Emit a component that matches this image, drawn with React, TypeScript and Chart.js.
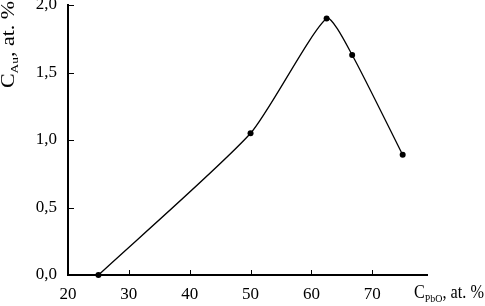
import React, { useEffect, useRef } from "react";
import { Chart, registerables } from "chart.js";

Chart.register(...registerables);

const xValues = [25, 50, 62.5, 66.7, 75];
const yValues = [0, 1.05, 1.9, 1.63, 0.89];
const xTicks = [20, 30, 40, 50, 60, 70];
const yTicks = [0, 0.5, 1.0, 1.5, 2.0];

const FONT = "'Liberation Serif', 'Times New Roman', serif";

type Part = { text: string; size: number; dy: number };

function drawRich(ctx: any, parts: Part[], target: number) {
  let total = 0;
  parts.forEach((p) => {
    ctx.font = `${p.size}px ${FONT}`;
    total += ctx.measureText(p.text).width;
  });
  const k = target / total;
  ctx.save();
  ctx.scale(k, 1);
  let x = 0;
  parts.forEach((p) => {
    ctx.font = `${p.size}px ${FONT}`;
    ctx.fillText(p.text, x, p.dy);
    x += ctx.measureText(p.text).width;
  });
  ctx.restore();
}

const decorPlugin = {
  id: "decor",
  afterDraw(chart: any) {
    const ctx = chart.ctx;
    const xs = chart.scales.x;
    const ys = chart.scales.y;
    const area = chart.chartArea;
    ctx.save();
    ctx.strokeStyle = "#000";
    ctx.lineWidth = 1;
    xTicks.forEach((v) => {
      const px = Math.round(xs.getPixelForValue(v)) + 0.5;
      ctx.beginPath();
      ctx.moveTo(px, area.bottom);
      ctx.lineTo(px, area.bottom - 5);
      ctx.stroke();
    });
    yTicks.forEach((v) => {
      const py = Math.round(ys.getPixelForValue(v)) + 0.5;
      ctx.beginPath();
      ctx.moveTo(area.left, py);
      ctx.lineTo(area.left + 6, py);
      ctx.stroke();
    });
    ctx.fillStyle = "#000";
    ctx.textBaseline = "alphabetic";
    ctx.textAlign = "left";
    // x title
    ctx.save();
    ctx.translate(414, 298);
    drawRich(
      ctx,
      [
        { text: "C", size: 18, dy: 0 },
        { text: "PbO", size: 11, dy: 4 },
        { text: ", at. %", size: 18, dy: 0 },
      ],
      70
    );
    ctx.restore();
    // y title
    ctx.save();
    ctx.translate(14, 88);
    ctx.rotate(-Math.PI / 2);
    drawRich(
      ctx,
      [
        { text: "C", size: 18, dy: 0 },
        { text: "Au", size: 11, dy: 4 },
        { text: ", at. %", size: 18, dy: 0 },
      ],
      87
    );
    ctx.restore();
    ctx.restore();
  },
};

export default function App() {
  const ref = useRef<HTMLCanvasElement | null>(null);
  useEffect(() => {
    if (!ref.current) return;
    const chart = new Chart(ref.current, {
      type: "line",
      data: {
        datasets: [
          {
            data: xValues.map((v, i) => ({ x: v, y: yValues[i] })),
            borderColor: "#000",
            backgroundColor: "#000",
            borderWidth: 1.3,
            pointRadius: 3,
            pointBackgroundColor: "#000",
            pointBorderWidth: 0,
            tension: 0.2,
            fill: false,
            clip: false as any,
          },
        ],
      },
      options: {
        animation: false,
        responsive: false,
        devicePixelRatio: 1,
        layout: { padding: { top: 5, right: 58, left: 0, bottom: 0 } },
        plugins: { legend: { display: false }, tooltip: { enabled: false } },
        scales: {
          x: {
            type: "linear",
            min: 20,
            max: 79,
            afterBuildTicks: (s: any) => {
              s.ticks = xTicks.map((v) => ({ value: v }));
            },
            afterFit: (s: any) => {
              s.height = 31;
              s.paddingLeft = 0;
              s.paddingRight = 0;
            },
            grid: { display: false, drawTicks: false },
            border: { display: true, color: "#000", width: 2 },
            ticks: {
              color: "#000",
              font: { family: FONT, size: 17 },
              padding: 9,
              maxRotation: 0,
              autoSkip: false,
            },
          },
          y: {
            type: "linear",
            min: 0,
            max: 2,
            afterBuildTicks: (s: any) => {
              s.ticks = yTicks.map((v) => ({ value: v }));
            },
            afterFit: (s: any) => {
              s.width = 68;
              s.paddingTop = 0;
              s.paddingBottom = 0;
            },
            grid: { display: false, drawTicks: false },
            border: { display: true, color: "#000", width: 2 },
            ticks: {
              color: "#000",
              font: { family: FONT, size: 17 },
              padding: 11,
              autoSkip: false,
              callback: (v: any) => Number(v).toFixed(1).replace(".", ","),
            },
          },
        },
      },
      plugins: [decorPlugin],
    });
    return () => chart.destroy();
  }, []);
  return (
    <div style={{ position: "absolute", left: 0, top: 0, width: 485, height: 306, background: "#fff" }}>
      <canvas ref={ref} width={485} height={306} />
    </div>
  );
}
